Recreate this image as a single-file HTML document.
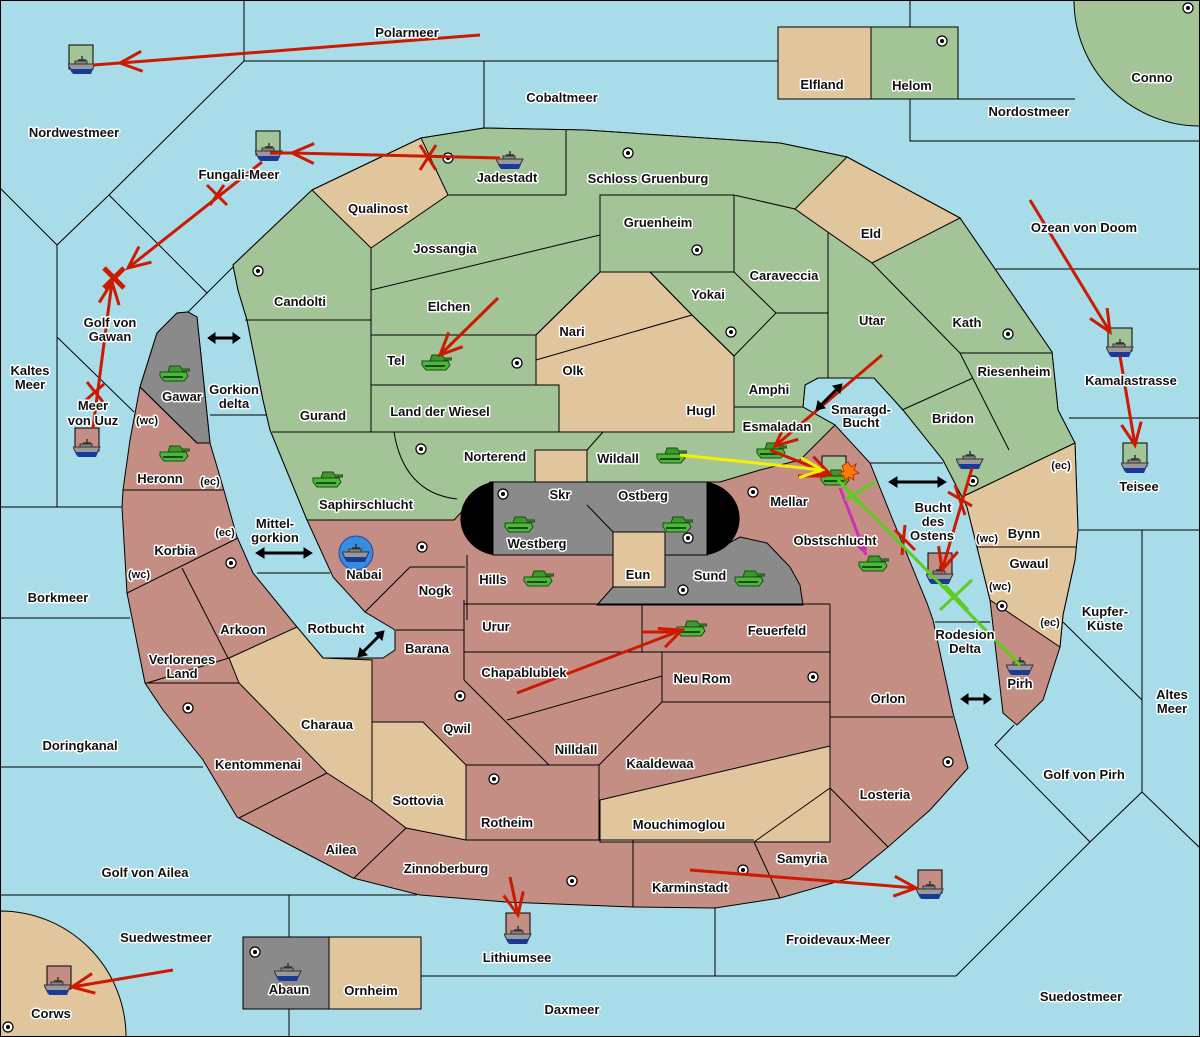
<!DOCTYPE html>
<html><head><meta charset="utf-8"><style>
html,body{margin:0;padding:0;background:#a8dce8;width:1200px;height:1037px;overflow:hidden;position:relative}
svg{display:block;position:absolute;left:0;top:0}
text{font-family:"Liberation Sans","DejaVu Sans",sans-serif;font-weight:bold;font-size:13px;fill:#111;stroke:#fff;stroke-width:3px;paint-order:stroke;stroke-linejoin:round;text-anchor:middle}
.b{fill:none;stroke:#000;stroke-width:1}
</style></head><body>
<svg width="1200" height="1037" viewBox="0 0 1200 1037" xmlns="http://www.w3.org/2000/svg" overflow="hidden">
<defs>
<marker id="mr" markerUnits="userSpaceOnUse" markerWidth="30" markerHeight="30" refX="24" refY="12" orient="auto"><path d="M2,2 L24,12 L2,22" fill="none" stroke="#cc1a00" stroke-width="3"/></marker>
<marker id="my" markerUnits="userSpaceOnUse" markerWidth="30" markerHeight="30" refX="24" refY="12" orient="auto"><path d="M2,2 L24,12 L2,22" fill="none" stroke="#f4f000" stroke-width="3"/></marker>
<marker id="mm" markerUnits="userSpaceOnUse" markerWidth="30" markerHeight="30" refX="20" refY="10" orient="auto"><path d="M0,0 L20,10 L0,20 z" fill="#d030b0"/></marker>
<symbol id="tank" viewBox="0 0 32 18"><path d="M12,2 h10 l2,3 h8 v2 h-8 v1 h-14 z" fill="#3a9a2a" stroke="#1b4a14" stroke-width="1"/><path d="M2,8 h26 l2,4 l-4,5 h-20 l-4,-5 z" fill="#4cb83a" stroke="#1b4a14" stroke-width="1"/><path d="M5,13 h20" stroke="#1b4a14" stroke-width="2"/></symbol>
<symbol id="ship" viewBox="0 0 28 20"><path d="M14,1 v6 M10,5 h8" stroke="#333" stroke-width="1.5"/><path d="M7,6 h12 v5 h-12z" fill="#888" stroke="#333"/><path d="M0,9 h27 l-4,8 h-19 z" fill="#999" stroke="#333"/><path d="M2,14 h23 l-2,5 h-18z" fill="#1a3a9a"/></symbol>
<symbol id="sc" viewBox="0 0 12 12"><circle cx="6" cy="6" r="5" fill="#fff" stroke="#000" stroke-width="1.2"/><circle cx="6" cy="6" r="2" fill="#000"/></symbol>
</defs>
<rect width="1200" height="1037" fill="#a8dce8"/>
<path d="M1074,0 A126,126 0 0 0 1200,126 V0 Z" fill="#a3c497" stroke="#000"/>
<path d="M0,911 A126,126 0 0 1 126,1037 H0 Z" fill="#e1c59d" stroke="#000"/>
<path class="b" d="M244,0 V61 H778 M244,61 L109,195 L57,245 L0,188 M109,195 L207,293 L233,267 M207,293 L188,312 M57,245 V507 M57,337 L134,412 M0,507 H123 M0,618 H130 M0,767 H203 M0,895 H417 M289,895 V1037 M421,976 H956 M715,908 V976 M484,61 V128 M910,0 V27 M910,99 V141 H1200 M996,269 H1200 M1069,418 H1200 M1078,530 H1200 M1142,530 V792 M1063,622 L1142,700 M1014,725 L995,745 L1090,842 L956,976 M1090,842 L1142,792 L1200,848 M935,622 H990 M870,463 H943 M257,573 H330 M210,415 H266 M957,99 H1075"/>
<rect x="778" y="27" width="93" height="72" fill="#e1c59d" stroke="#000"/>
<rect x="871" y="27" width="87" height="72" fill="#a3c497" stroke="#000"/>
<rect x="243" y="937" width="86" height="72" fill="#8a8a8a" stroke="#000"/>
<rect x="329" y="937" width="92" height="72" fill="#e1c59d" stroke="#000"/>
<polygon fill="#c48e84" stroke="#000" points="233,265 312,190 379,158 421,138 484,128 585,130 600,131 780,143 847,157 960,218 1052,352 1058,410 1075,443 1078,530 1075,560 1063,615 1060,647 1043,700 1017,725 1003,713 990,600 977,547 967,507 962,497 943,460 903,410 874,378 818,378 805,385 803,407 835,425 870,463 890,513 927,603 933,620 953,713 968,768 930,810 888,847 850,878 780,898 715,908 633,907 506,902 420,895 353,878 290,845 237,817 203,760 163,710 145,683 127,593 122,507 123,490 130,440 140,387 157,333 177,313 188,312 197,317 210,443 223,487 237,537 253,573 297,627 323,658 383,658 395,650 395,630 365,612 333,577 307,520 270,430 263,400 247,320 238,290"/>
<polygon fill="#a3c497" stroke="#000" points="233,265 312,190 379,158 421,138 484,128 585,130 600,131 780,143 847,157 960,218 1052,352 1058,410 1075,443 962,497 943,460 903,410 874,378 818,378 805,385 803,407 835,425 800,460 760,470 720,482 490,482 454,520 307,520 270,430 263,400 247,320 238,290"/>
<g fill="#e1c59d" stroke="#000">
<polygon points="312,190 379,158 421,138 448,195 371,248"/>
<polygon points="795,209 847,157 960,218 872,263"/>
<polygon points="536,335 600,272 650,272 692,315 734,356 734,432 559,432 559,385 536,385"/>
<rect x="535" y="450" width="52" height="55"/>
<polygon points="229,658 297,627 323,658 372,660 372,802 327,773 239,683"/>
<polygon points="372,722 423,722 466,765 466,840 406,828 372,802"/>
<polygon points="600,800 830,746 830,842 600,842"/>
<polygon points="962,497 1075,443 1078,530 1075,560 1063,615 1060,647 990,600 977,547 967,507"/>
</g>
<g fill="#8a8a8a" stroke="#000">
<polygon points="157,333 177,313 188,312 197,317 210,443 197,443 140,387"/>
<polygon points="597,605 613,587 665,587 665,555 707,555 740,537 767,543 790,567 800,585 803,605"/>
<rect x="493" y="482" width="214" height="73"/>
</g>
<path d="M493,482 A39,37 0 0 0 493,555 Z" fill="#000"/>
<path d="M707,482 A39,37 0 0 1 707,555 Z" fill="#000"/>
<rect x="613" y="532" width="52" height="55" fill="#e1c59d" stroke="#000"/>
<path class="b" d="M448,195 H566 M566,130 V195 M371,248 V432 M371,290 L600,235 M245,320 H371 M371,335 H536 L600,272 M600,195 H734 V272 H600 Z M734,195 L795,209 M650,272 L692,315 L734,356 L776,313 L734,272 M776,313 H828 M828,233 V378 M872,263 L960,353 L1009,450 M960,353 H1052 M902,410 L973,378 M734,356 V407 H803 M371,385 H559 M536,335 V385 M559,385 V432 M272,432 H734 M536,360 L692,315 M394,432 C400,470 420,495 457,499 M603,432 L587,450 M587,505 L613,532
M140,387 L197,443 M123,490 H223 M127,593 L238,538 M182,568 L228,658 M147,683 L229,658 M145,683 H239 M239,818 L327,773 M406,828 L354,878 M396,630 H464 M464,600 V680 M464,680 L549,765 M464,652 H830 M464,604 H830 M642,605 V652 M507,720 L662,676 M662,652 V702 H830 M662,702 L599,765 M466,765 H599 V840 M466,840 H754 M633,840 V907 M754,842 L780,898 M754,842 L830,788 M830,604 V788 M830,717 H953 M830,788 L888,847 M977,547 H1076 M467,555 V620 M410,567 H465 M365,612 L410,567 M400,577 L410,567"/>
<g>
<use href="#sc" x="442" y="152" width="12" height="12"/><use href="#sc" x="622" y="147" width="12" height="12"/><use href="#sc" x="691" y="244" width="12" height="12"/><use href="#sc" x="252" y="265" width="12" height="12"/><use href="#sc" x="511" y="357" width="12" height="12"/><use href="#sc" x="725" y="326" width="12" height="12"/><use href="#sc" x="1002" y="328" width="12" height="12"/><use href="#sc" x="967" y="475" width="12" height="12"/><use href="#sc" x="497" y="488" width="12" height="12"/><use href="#sc" x="747" y="486" width="12" height="12"/><use href="#sc" x="682" y="532" width="12" height="12"/><use href="#sc" x="415" y="443" width="12" height="12"/><use href="#sc" x="416" y="541" width="12" height="12"/><use href="#sc" x="677" y="584" width="12" height="12"/><use href="#sc" x="225" y="557" width="12" height="12"/><use href="#sc" x="454" y="690" width="12" height="12"/><use href="#sc" x="807" y="671" width="12" height="12"/><use href="#sc" x="182" y="702" width="12" height="12"/><use href="#sc" x="488" y="773" width="12" height="12"/><use href="#sc" x="566" y="875" width="12" height="12"/><use href="#sc" x="737" y="864" width="12" height="12"/><use href="#sc" x="942" y="756" width="12" height="12"/><use href="#sc" x="996" y="600" width="12" height="12"/><use href="#sc" x="936" y="35" width="12" height="12"/><use href="#sc" x="1182" y="2" width="12" height="12"/><use href="#sc" x="249" y="946" width="12" height="12"/><use href="#sc" x="2" y="1021" width="12" height="12"/>
</g>
<g stroke="#000">
<rect x="69" y="45" width="24" height="24" fill="#a3c497"/>
<rect x="256" y="131" width="24" height="24" fill="#a3c497"/>
<rect x="1108" y="328" width="24" height="23" fill="#a3c497"/>
<rect x="1123" y="443" width="24" height="23" fill="#a3c497"/>
<rect x="822" y="456" width="24" height="23" fill="#a3c497"/>
<rect x="928" y="553" width="24" height="23" fill="#c48e84"/>
<rect x="75" y="428" width="24" height="23" fill="#c48e84"/>
<rect x="506" y="913" width="24" height="23" fill="#c48e84"/>
<rect x="918" y="870" width="24" height="23" fill="#c48e84"/>
<rect x="47" y="966" width="24" height="23" fill="#c48e84"/>
</g>
<circle cx="356" cy="553" r="17" fill="#3a8ae0" stroke="#1a4a9a"/>
<g>
<use href="#ship" x="68" y="55" width="28" height="20"/><use href="#ship" x="255" y="142" width="28" height="20"/><use href="#ship" x="496" y="150" width="28" height="20"/><use href="#ship" x="1106" y="338" width="28" height="20"/><use href="#ship" x="1121" y="454" width="28" height="20"/><use href="#ship" x="956" y="450" width="28" height="20"/><use href="#ship" x="926" y="565" width="28" height="20"/><use href="#ship" x="1006" y="656" width="28" height="20"/><use href="#ship" x="73" y="438" width="28" height="20"/><use href="#ship" x="504" y="925" width="28" height="20"/><use href="#ship" x="916" y="880" width="28" height="20"/><use href="#ship" x="44" y="976" width="28" height="20"/><use href="#ship" x="274" y="962" width="28" height="20"/><use href="#ship" x="342" y="543" width="28" height="20"/>
</g>
<g>
<use href="#tank" x="158" y="364" width="32" height="18"/><use href="#tank" x="158" y="444" width="32" height="18"/><use href="#tank" x="311" y="470" width="32" height="18"/><use href="#tank" x="420" y="353" width="32" height="18"/><use href="#tank" x="503" y="515" width="32" height="18"/><use href="#tank" x="661" y="515" width="32" height="18"/><use href="#tank" x="522" y="569" width="32" height="18"/><use href="#tank" x="733" y="569" width="32" height="18"/><use href="#tank" x="655" y="446" width="32" height="18"/><use href="#tank" x="755" y="441" width="32" height="18"/><use href="#tank" x="819" y="468" width="32" height="18"/><use href="#tank" x="857" y="554" width="32" height="18"/><use href="#tank" x="675" y="619" width="32" height="18"/>
</g>
<polygon points="848,462 851,467 856,464 854,470 859,473 853,475 854,480 849,477 845,481 844,476 839,474 844,471 842,466" fill="#ff7a00" stroke="#c03000"/>
<g stroke="#cc1a00" stroke-width="3" fill="none">
<path d="M480,35 L120,63" marker-end="url(#mr)"/><path d="M120,63 L93,65"/>
<path d="M500,158 L292,153" marker-end="url(#mr)"/><path d="M292,153 L270,153"/>
<path d="M262,162 L128,268" marker-end="url(#mr)"/>
<path d="M93,428 L112,282" marker-end="url(#mr)"/>
<path d="M1030,200 L1110,332" marker-end="url(#mr)"/>
<path d="M1120,356 L1135,445" marker-end="url(#mr)"/>
<path d="M498,298 L440,355" marker-end="url(#mr)"/>
<path d="M882,355 L775,446" marker-end="url(#mr)"/>
<path d="M770,450 L830,474" marker-end="url(#mr)"/>
<path d="M798,476 L826,476"/>
<path d="M972,468 L942,570" marker-end="url(#mr)"/>
<path d="M517,693 L682,630" marker-end="url(#mr)"/><path d="M642,632 L680,632"/>
<path d="M690,870 L916,888" marker-end="url(#mr)"/>
<path d="M510,877 L518,915" marker-end="url(#mr)"/>
<path d="M173,970 L72,987" marker-end="url(#mr)"/>
<path d="M420,145 L436,170 M436,145 L420,170 M207,185 L227,205 M210,205 L224,185 M87,382 L103,402 M86,400 L104,384 M895,530 L915,550 M905,525 L902,555 M948,492 L972,506 M955,485 L965,515"/>
</g>
<path d="M104,268 L124,288 M124,268 L104,288" stroke="#cc1a00" stroke-width="5"/>
<path d="M680,455 L822,470" stroke="#f4f000" stroke-width="3" fill="none" marker-end="url(#my)"/>
<path d="M840,488 L866,555" stroke="#d030b0" stroke-width="3" fill="none" marker-end="url(#mm)"/>
<g stroke="#5ccc1e" stroke-width="3" fill="none">
<path d="M838,480 L1020,665 M845,500 L875,482 M840,482 L860,505 M940,610 L972,580 M945,585 L968,610"/>
</g>
<g stroke="#000" stroke-width="3" fill="#000">
<path d="M214,338 H234"/><path d="M208,338 l7,-5 v10z M240,338 l-7,-5 v10z" stroke-width="1"/>
<path d="M262,553 H306"/><path d="M256,553 l8,-5 v10z M312,553 l-8,-5 v10z" stroke-width="1"/>
<path d="M362,653 L380,635"/><path d="M358,657 l2,-9 l7,7z M384,631 l-2,9 l-7,-7z" stroke-width="1"/>
<path d="M820,406 L838,388"/><path d="M816,410 l2,-9 l7,7z M842,384 l-2,9 l-7,-7z" stroke-width="1"/>
<path d="M895,482 H940"/><path d="M889,482 l8,-5 v10z M946,482 l-8,-5 v10z" stroke-width="1"/>
<path d="M966,699 H986"/><path d="M961,699 l7,-5 v10z M991,699 l-7,-5 v10z" stroke-width="1"/>
</g>
<text x="407" y="37">Polarmeer</text><text x="74" y="137">Nordwestmeer</text><text x="562" y="102">Cobaltmeer</text>
<text x="822" y="89">Elfland</text><text x="912" y="90">Helom</text><text x="1152" y="82">Conno</text><text x="1029" y="116">Nordostmeer</text>
<text x="239" y="179">Fungali-Meer</text><text x="507" y="182">Jadestadt</text><text x="648" y="183">Schloss Gruenburg</text>
<text x="378" y="213">Qualinost</text><text x="658" y="227">Gruenheim</text><text x="871" y="238">Eld</text><text x="1084" y="232">Ozean von Doom</text>
<text x="445" y="253">Jossangia</text><text x="784" y="280">Caraveccia</text><text x="300" y="306">Candolti</text><text x="708" y="299">Yokai</text>
<text x="449" y="311">Elchen</text><text x="572" y="336">Nari</text><text x="110" y="327">Golf von</text><text x="110" y="341">Gawan</text>
<text x="872" y="325">Utar</text><text x="967" y="327">Kath</text><text x="396" y="365">Tel</text><text x="573" y="375">Olk</text>
<text x="30" y="375">Kaltes</text><text x="30" y="389">Meer</text><text x="1014" y="376">Riesenheim</text><text x="1131" y="385">Kamalastrasse</text>
<text x="769" y="394">Amphi</text><text x="234" y="394">Gorkion</text><text x="234" y="408">delta</text><text x="182" y="401">Gawar</text>
<text x="93" y="410">Meer</text><text x="93" y="425">von Uuz</text><text x="861" y="414">Smaragd-</text><text x="861" y="427">Bucht</text>
<text x="323" y="420">Gurand</text><text x="440" y="416">Land der Wiesel</text><text x="701" y="415">Hugl</text><text x="953" y="423">Bridon</text>
<text x="147" y="424" style="font-size:11px">(wc)</text><text x="777" y="431">Esmaladan</text><text x="495" y="461">Norterend</text><text x="618" y="463">Wildall</text>
<text x="160" y="483">Heronn</text><text x="210" y="485" style="font-size:11px">(ec)</text><text x="1139" y="491">Teisee</text><text x="1061" y="469" style="font-size:11px">(ec)</text>
<text x="560" y="499">Skr</text><text x="643" y="500">Ostberg</text><text x="789" y="506">Mellar</text><text x="366" y="509">Saphirschlucht</text>
<text x="933" y="512">Bucht</text><text x="933" y="526">des</text><text x="932" y="540">Ostens</text><text x="987" y="542" style="font-size:11px">(wc)</text><text x="1024" y="538">Bynn</text>
<text x="275" y="528">Mittel-</text><text x="275" y="542">gorkion</text><text x="225" y="536" style="font-size:11px">(ec)</text><text x="537" y="548">Westberg</text>
<text x="835" y="545">Obstschlucht</text><text x="175" y="555">Korbia</text><text x="1029" y="568">Gwaul</text><text x="364" y="579">Nabai</text>
<text x="638" y="579">Eun</text><text x="710" y="580">Sund</text><text x="139" y="578" style="font-size:11px">(wc)</text><text x="493" y="584">Hills</text>
<text x="435" y="595">Nogk</text><text x="1000" y="590" style="font-size:11px">(wc)</text><text x="58" y="602">Borkmeer</text>
<text x="1105" y="616">Kupfer-</text><text x="1105" y="630">Küste</text><text x="1050" y="626" style="font-size:11px">(ec)</text>
<text x="496" y="631">Urur</text><text x="777" y="635">Feuerfeld</text><text x="336" y="633">Rotbucht</text><text x="243" y="634">Arkoon</text>
<text x="965" y="639">Rodesion</text><text x="965" y="653">Delta</text><text x="427" y="653">Barana</text>
<text x="182" y="664">Verlorenes</text><text x="182" y="678">Land</text><text x="524" y="677">Chapablublek</text><text x="702" y="683">Neu Rom</text>
<text x="1020" y="688">Pirh</text><text x="1172" y="699">Altes</text><text x="1172" y="713">Meer</text><text x="888" y="703">Orlon</text>
<text x="327" y="729">Charaua</text><text x="457" y="733">Qwil</text><text x="80" y="750">Doringkanal</text><text x="576" y="754">Nilldall</text>
<text x="660" y="768">Kaaldewaa</text><text x="258" y="769">Kentommenai</text><text x="1084" y="779">Golf von Pirh</text><text x="885" y="799">Losteria</text>
<text x="418" y="805">Sottovia</text><text x="507" y="827">Rotheim</text><text x="679" y="829">Mouchimoglou</text><text x="341" y="854">Ailea</text>
<text x="802" y="863">Samyria</text><text x="446" y="873">Zinnoberburg</text><text x="145" y="877">Golf von Ailea</text><text x="690" y="892">Karminstadt</text>
<text x="166" y="942">Suedwestmeer</text><text x="838" y="944">Froidevaux-Meer</text><text x="517" y="962">Lithiumsee</text>
<text x="289" y="994">Abaun</text><text x="371" y="995">Ornheim</text><text x="1081" y="1001">Suedostmeer</text><text x="572" y="1014">Daxmeer</text><text x="51" y="1018">Corws</text>
<rect x="0.5" y="0.5" width="1199" height="1036" fill="none" stroke="#000"/>
</svg>
</body></html>
